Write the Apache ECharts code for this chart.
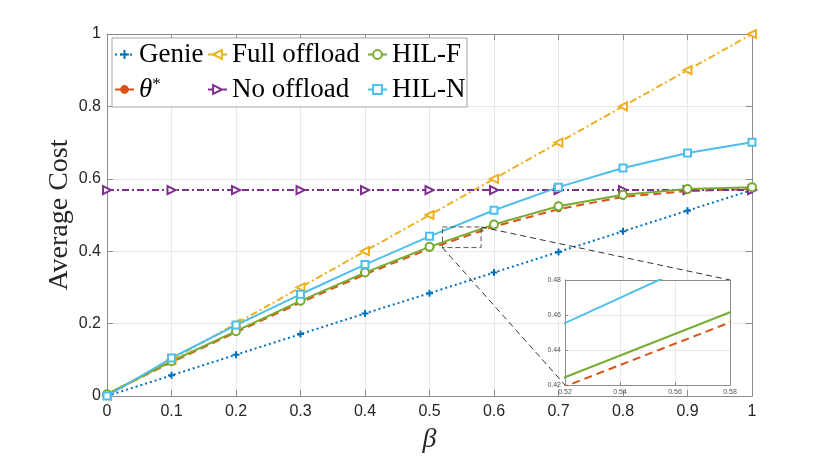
<!DOCTYPE html>
<html>
<head>
<meta charset="utf-8">
<script src="https://cdn.jsdelivr.net/npm/echarts@6/dist/echarts.min.js"></script>
<style>
  html, body { margin: 0; padding: 0; background: #fff; }
  #chart { width: 830px; height: 459px; }
</style>
</head>
<body>
<div id="chart"></div>
<script>
// values
var beta = [0, 0.1, 0.2, 0.3, 0.4, 0.5, 0.6, 0.7, 0.8, 0.9, 1];
var genie = [0, 0.057, 0.114, 0.171, 0.228, 0.284, 0.341, 0.398, 0.455, 0.512, 0.569];
var thetaStar = [0.005, 0.093, 0.176, 0.258, 0.336, 0.407, 0.468, 0.516, 0.550, 0.566, 0.572];
var fullOffload = [0, 0.1, 0.2, 0.3, 0.4, 0.5, 0.6, 0.7, 0.8, 0.9, 1];
var noOffload = [0.569, 0.569, 0.569, 0.569, 0.569, 0.569, 0.569, 0.569, 0.569, 0.569, 0.569];
var hilF = [0.005, 0.096, 0.179, 0.263, 0.341, 0.412, 0.474, 0.524, 0.556, 0.572, 0.577];
var hilN = [0.0, 0.105, 0.196, 0.281, 0.363, 0.441, 0.513, 0.577, 0.630, 0.671, 0.701];

// zoomed window (inset) and the dashed box drawn in the main plot
var zoomX = [0.52, 0.58];
var zoomY = [0.42, 0.48];
var boxY = [0.41, 0.467];

function pairs(ys) {
  return beta.map(function (b, i) { return [b, ys[i]]; });
}

var tickFont = { fontFamily: 'Liberation Sans', fontSize: 16, color: '#262626' };
var axisGray = '#8c8c8c';
var serif = 'Liberation Serif';
var plusSym = 'path://M0,5L10,5M5,0L5,10';

var myChart = echarts.init(document.getElementById('chart'));

function mainAxisCommon() {
  return {
    type: 'value', min: 0, max: 1, interval: 0.1,
    axisLine: { show: true, onZero: false, lineStyle: { color: axisGray, width: 1 } },
    axisTick: { show: true, inside: true, length: 6, lineStyle: { color: axisGray } },
    splitLine: { show: false }
  };
}

var xBottom = mainAxisCommon();
xBottom.gridIndex = 0;
xBottom.position = 'bottom';
xBottom.axisLabel = Object.assign({ margin: 8 }, tickFont);
xBottom.splitLine = { show: true, lineStyle: { color: '#e8e8e8' } };
xBottom.name = 'β';
xBottom.nameLocation = 'middle';
xBottom.nameGap = 30;
xBottom.nameTextStyle = { fontFamily: serif, fontStyle: 'italic', fontSize: 28, color: '#262626' };

var xTop = mainAxisCommon();
xTop.gridIndex = 0;
xTop.position = 'top';
xTop.axisLabel = { show: false };

var yLeft = mainAxisCommon();
yLeft.gridIndex = 0;
yLeft.interval = 0.2;
yLeft.position = 'left';
yLeft.axisLabel = Object.assign({ margin: 6 }, tickFont);
yLeft.splitLine = { show: true, lineStyle: { color: '#e8e8e8' } };
yLeft.name = 'Average Cost';
yLeft.nameLocation = 'middle';
yLeft.nameGap = 33;
yLeft.nameMoveOverlap = false;
yLeft.nameTextStyle = { fontFamily: serif, fontSize: 28, color: '#262626' };

var yRight = mainAxisCommon();
yRight.gridIndex = 0;
yRight.interval = 0.2;
yRight.position = 'right';
yRight.axisLabel = { show: false };

var insetLabel = { fontFamily: 'Liberation Sans', fontSize: 7, color: '#555', margin: 4,
  formatter: function (v) { return v.toFixed(2); } };

var xInset = {
  type: 'value', gridIndex: 1, min: zoomX[0], max: zoomX[1], interval: 0.02, z: 6,
  axisLine: { show: true, onZero: false, lineStyle: { color: axisGray } },
  axisTick: { show: true, inside: true, length: 3, lineStyle: { color: axisGray } },
  axisLabel: insetLabel,
  splitLine: { show: true, lineStyle: { color: '#e8e8e8' } }
};
var yInset = {
  type: 'value', gridIndex: 1, min: zoomY[0], max: zoomY[1], interval: 0.02, z: 6,
  axisLine: { show: true, onZero: false, lineStyle: { color: axisGray } },
  axisTick: { show: true, inside: true, length: 3, lineStyle: { color: axisGray } },
  axisLabel: insetLabel,
  splitLine: { show: true, lineStyle: { color: '#e8e8e8' } }
};
var xInsetTop = { type: 'value', gridIndex: 1, position: 'top', min: zoomX[0], max: zoomX[1], z: 6,
  axisLine: { show: true, onZero: false, lineStyle: { color: axisGray } },
  axisTick: { show: false }, axisLabel: { show: false }, splitLine: { show: false } };
var yInsetRight = { type: 'value', gridIndex: 1, position: 'right', min: zoomY[0], max: zoomY[1], z: 6,
  axisLine: { show: true, onZero: false, lineStyle: { color: axisGray } },
  axisTick: { show: false }, axisLabel: { show: false }, splitLine: { show: false } };

var legendText = {
  fontFamily: serif, fontSize: 27, color: '#000',
  rich: {
    i: { fontFamily: serif, fontStyle: 'italic', fontSize: 27, color: '#000' },
    s: { fontFamily: serif, fontSize: 17, color: '#000', verticalAlign: 'top', padding: [0, 0, 10, 0] }
  }
};
function legendCol(left, names) {
  return {
    orient: 'vertical', left: left, top: 41, itemWidth: 19, itemHeight: 11, itemGap: 8,
    padding: 0, data: names, textStyle: legendText, z: 5,
    formatter: function (n) { return n === 'θ*' ? '{i|θ}{s|*}' : n; }
  };
}

var option = {
  animation: false,
  grid: [
    { left: 107, right: 78, top: 34, bottom: 59 },
    { left: 565, top: 280, width: 165, height: 105, show: true, backgroundColor: '#fff', borderWidth: 0, z: 5 }
  ],
  xAxis: [xBottom, xTop, xInset, xInsetTop],
  yAxis: [yLeft, yRight, yInset, yInsetRight],
  legend: [
    legendCol(114, ['Genie', 'θ*']),
    legendCol(207, ['Full offload', 'No offload']),
    legendCol(367, ['HIL-F', 'HIL-N'])
  ],
  series: [
    { name: 'Genie', type: 'line', data: pairs(genie), symbol: plusSym, symbolSize: 7,
      itemStyle: { color: '#0072BD', borderColor: '#0072BD', borderWidth: 2 },
      lineStyle: { color: '#0072BD', width: 2, type: [2, 3] } },
    { name: 'θ*', type: 'line', data: pairs(thetaStar), symbol: 'circle', symbolSize: 6,
      itemStyle: { color: '#D95319' },
      lineStyle: { color: '#D95319', width: 2, type: [8, 5] } },
    { name: 'Full offload', type: 'line', data: pairs(fullOffload), symbol: 'emptyTriangle', symbolSize: 8,
      symbolRotate: 90, itemStyle: { color: '#EDB120', borderWidth: 2 },
      lineStyle: { color: '#EDB120', width: 2, type: [7, 3, 2, 3] } },
    { name: 'No offload', type: 'line', data: pairs(noOffload), symbol: 'emptyTriangle', symbolSize: 8,
      symbolRotate: -90, itemStyle: { color: '#7E2F8E', borderWidth: 2 },
      lineStyle: { color: '#7E2F8E', width: 2, type: [7, 3, 2, 3] } },
    { name: 'HIL-F', type: 'line', data: pairs(hilF), symbol: 'emptyCircle', symbolSize: 8,
      itemStyle: { color: '#77AC30', borderWidth: 1.5 },
      lineStyle: { color: '#77AC30', width: 2 } },
    { name: 'HIL-N', type: 'line', data: pairs(hilN), symbol: 'emptyRect', symbolSize: 7,
      itemStyle: { color: '#4DBEEE', borderWidth: 1.5 },
      lineStyle: { color: '#4DBEEE', width: 2 } },
    // inset copies
    { name: 'HIL-N', type: 'line', xAxisIndex: 2, yAxisIndex: 2, data: pairs(hilN), showSymbol: false,
      symbol: 'none', clip: true, z: 7, lineStyle: { color: '#4DBEEE', width: 2 } },
    { name: 'HIL-F', type: 'line', xAxisIndex: 2, yAxisIndex: 2, data: pairs(hilF), showSymbol: false,
      symbol: 'none', clip: true, z: 7, lineStyle: { color: '#77AC30', width: 2 } },
    { name: 'θ*', type: 'line', xAxisIndex: 2, yAxisIndex: 2, data: pairs(thetaStar), showSymbol: false,
      symbol: 'none', clip: true, z: 7, lineStyle: { color: '#D95319', width: 2, type: [8, 5] } }
  ]
};

option && myChart.setOption(option);

// dashed zoom box, connector lines and the legend frame
var p1 = myChart.convertToPixel({ gridIndex: 0 }, [zoomX[0], boxY[0]]);
var p2 = myChart.convertToPixel({ gridIndex: 0 }, [zoomX[1], boxY[1]]);
var q1 = myChart.convertToPixel({ gridIndex: 1 }, [zoomX[0], zoomY[0]]);
var q2 = myChart.convertToPixel({ gridIndex: 1 }, [zoomX[1], zoomY[1]]);
var dash = { stroke: '#333', lineWidth: 1, lineDash: [6, 4], fill: null };

myChart.setOption({
  graphic: [
    { type: 'rect', z: 3, shape: { x: 112, y: 38, width: 355, height: 69 },
      style: { fill: '#fff', stroke: '#a6a6a6', lineWidth: 1 } },
    { type: 'rect', z: 4, shape: { x: p1[0], y: p2[1], width: p2[0] - p1[0], height: p1[1] - p2[1] },
      style: { stroke: '#555', lineWidth: 1, lineDash: [5, 3], fill: null } },
    { type: 'line', z: 4, shape: { x1: p1[0], y1: p1[1], x2: q1[0], y2: q1[1] }, style: dash },
    { type: 'line', z: 4, shape: { x1: p2[0], y1: p2[1], x2: q2[0], y2: q2[1] }, style: dash }
  ]
});
</script>
</body>
</html>
